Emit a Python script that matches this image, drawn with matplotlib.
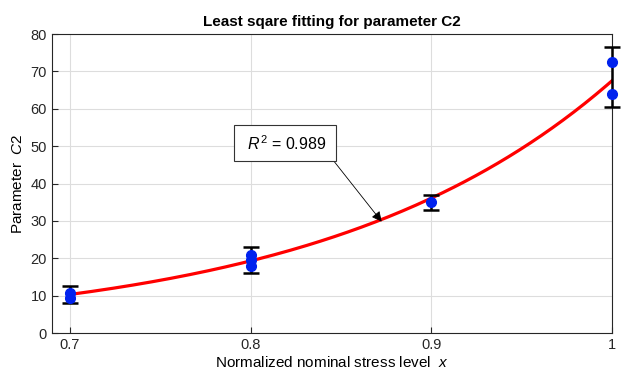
import matplotlib.pyplot as plt
import numpy as np

plt.rcParams['font.family'] = ['Liberation Sans', 'DejaVu Sans']
plt.rcParams['mathtext.fontset'] = 'custom'
plt.rcParams['mathtext.it'] = 'Liberation Sans:italic'
plt.rcParams['mathtext.rm'] = 'Liberation Sans'

# measured points
x_pts = [0.7, 0.7, 0.8, 0.8, 0.8, 0.9, 1.0, 1.0]
c2_pts = [9.5, 10.8, 18.0, 19.5, 21.0, 35.0, 72.5, 64.0]

# error bars (low / high per stress level)
x_err = [0.7, 0.8, 0.9, 1.0]
err_low = [8.0, 16.0, 33.0, 60.5]
err_high = [12.6, 23.0, 37.0, 76.5]

# exponential fit C2 = a * exp(b x)
fit_a = 0.129
fit_b = 6.26
r2 = 0.989

fig = plt.figure(figsize=(6.21, 3.73), dpi=100)
ax = fig.add_axes([0.0837, 0.1072, 0.9018, 0.8016])

xf = np.linspace(0.7, 1.0, 200)
ax.plot(xf, fit_a * np.exp(fit_b * xf), color='red', lw=2.3, zorder=2)

mid = [(lo + hi) / 2 for lo, hi in zip(err_low, err_high)]
half = [(hi - lo) / 2 for lo, hi in zip(err_low, err_high)]
eb = ax.errorbar(x_err, mid, yerr=half, fmt='none', ecolor='black',
                 elinewidth=1.8, capsize=5.5, capthick=1.8, zorder=3)
for art in eb.lines[1] + eb.lines[2]:
    art.set_clip_on(False)
ax.plot(x_pts, c2_pts, 'o', color='#0022ee', markersize=7, zorder=4, clip_on=False)

ax.annotate(' $R^2$ = %.3f ' % r2, xy=(0.8725, 29.8), xytext=(0.819, 50.8),
            fontsize=11.5, ha='center', va='center',
            bbox=dict(boxstyle='square,pad=0.55', fc='white', ec='#333333', lw=0.8),
            arrowprops=dict(arrowstyle='-|>', color='black', lw=0.6,
                            mutation_scale=15, shrinkA=0, shrinkB=0,
                            relpos=(1.0, 0.0)))

ax.set_xlim(0.69, 1.0)
ax.set_ylim(0, 80)
ax.set_xticks([0.7, 0.8, 0.9, 1.0])
ax.set_xticklabels(['0.7', '0.8', '0.9', '1'])
ax.set_yticks(range(0, 81, 10))
ax.grid(True, color='#dddddd', lw=0.8)
ax.set_axisbelow(True)
ax.tick_params(direction='in', labelsize=10.5, length=4, colors='#262626')
for s in ax.spines.values():
    s.set_linewidth(0.8)
    s.set_color('#262626')

ax.set_title('Least sqare fitting for parameter C2', fontsize=11, fontweight='bold')
ax.set_xlabel(r'Normalized nominal stress level  $x$', fontsize=11, labelpad=2)
ax.set_ylabel(r'Parameter  $C2$', fontsize=11, labelpad=4)

fig.savefig('out.png', dpi=100)
